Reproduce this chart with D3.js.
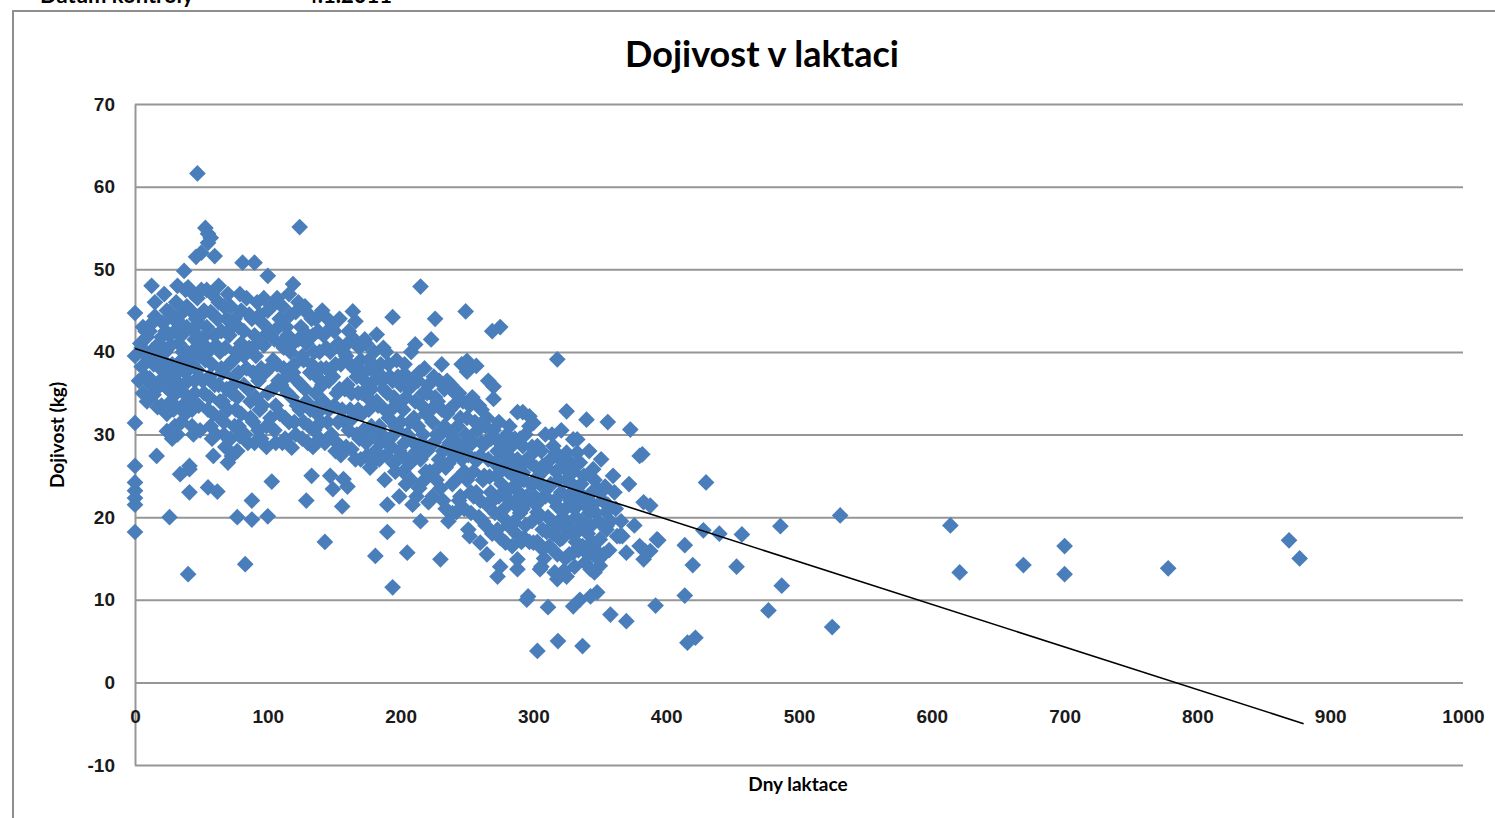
<!DOCTYPE html>
<html>
<head>
<meta charset="utf-8">
<script src="https://cdn.jsdelivr.net/npm/d3@7"></script>
<style>
    body { margin: 0; background: #fff; }
    svg { display: block; font-family: Lato, 'Open Sans', sans-serif; }
    .axis text { font-size: 19px; font-weight: bold; fill: #1a1a1a; }
    .axis line, .axis path { stroke: #969696; stroke-width: 2; }
</style>
</head>
<body>
<div class="scatter-container"></div>
<script>
//Data - dny laktace, dojivost (kg)
const x_ticks = [0, 100, 200, 300, 400, 500, 600, 700, 800, 900, 1000];
const y_ticks = [-10, 0, 10, 20, 30, 40, 50, 60, 70];

// trend (linearni spojnice)
const trend_x = [0, 880];
const trend_y = [40.4, -5.0];

// 0 - 100 dni
const rana = [
    [0,44.7],[0,39.5],[0,31.4],[0,26.2],[0,24.2],[0,23.2],[0,22.3],[0,21.5],[0,18.2],
    [3,36.5],[4,41],[5,38.2],[6,43],[6,35],[7,39.8],[8,37],[9,41.8],[9,34],
    [12.5,48],[15,44.3],[11,42.5],[13,40.2],[14,38.5],[12,36],[16,35.5],[17,33.3],[16.3,27.4],[18,41],[19,38],[15,46],
    [22,47],[24,45],[21,43.5],[26,42],[23,40],[28,38.5],[22,37],[25,35.5],[27,34],[24,32.5],[24,30.4],[30,31],[32,30],[26,20],
    [28,29.5],[29,44],[31,46],[33,41],[35,39],[37,49.8],[34,36],[36,33.5],[34,25.2],[38,47.5],[39,43],[38,37.5],[32,48],
    [40,13.1],[41,26.2],[41,23],[41,25.8],[43,31],[44,30],[42,34],[45,36.5],[43,38.5],[46,40.5],[44,42.5],[42,45],[46,44],
    [47,46.5],[46,51.5],[47,61.6],[50,52],[53,55],[55,54.3],[57,53.8],[55,53.2],[50,47.5],[52,45],[54,43],[51,41],[53,39],
    [56,37],[52,35],[55,33],[57,31],[58,29.5],[55,23.6],[59,27.4],[60,51.6],[58,47],[59,44.5],[60,42],
    [62,23.1],[63,46],[64,40],[65,38],[63,36],[66,34],[64,32],[67,30],[68,28.5],[70,26.6],[69,44],[71,42],[72,45.5],[73,27.4],
    [74,39],[75,37],[73,35],[76,33],[77,28],[77,20],[78,31],[79,47],[78,43],[80,41],
    [81,50.8],[83,14.3],[82,36],[84,38],[85,29],[86,44.5],[87,34],[88,22],[88,19.7],[89,31.5],[90,50.8],[90,42],[91,39.5],
    [92,46],[93,36.5],[94,33],[95,29.5],[96,43.5],[97,40.8],[98,37.5],[99,31],[100,49.2],[100,20.1],[100,45],[100,35],
    [5,40.5],[8,42.5],[10,39],[11,36.8],[13,43.5],[14,34.8],[17,39.5],[19,36.2],[20,41.8],[20,33.5],[21,39],[23,35.8],
    [23,42.5],[25,38],[26,44.8],[27,36.5],[27,40.8],[29,33],[30,42.5],[30,37.2],[31,35],[32,43.8],[33,38.5],[34,44.5],
    [35,31.5],[35,42],[36,40],[37,35],[38,32.5],[39,45.5],[39,40],[40,36.5],[40,47.8],[42,39.5],[43,33],[44,47],[45,41.5],
    [45,35],[47,37.8],[48,43.5],[48,33.5],[49,39.5],[49,30.5],[50,44.5],[51,36.5],[53,42],[54,47.5],[55,40],[56,34.5],
    [57,44.8],[58,38.5],[59,32.5],[60,36],[61,40.8],[61,30],[62,44],[63,48],[64,34],[65,42.5],[66,37.5],[67,31.5],[67,45.5],
    [68,40.5],[69,35.5],[70,33],[70,47],[71,38.5],[72,29.5],[72,42.8],[74,36],[75,44],[75,31],[76,40],[77,34.5],[78,37.5],
    [79,29.8],[80,45],[80,32.5],[82,39.5],[82,42.5],[83,30],[84,46.5],[85,35.5],[86,40.5],[87,32],[88,44],[89,37.5],[90,29],
    [91,34.5],[92,41],[93,30.5],[94,44.5],[95,38],[96,33.5],[97,46.5],[98,42],[99,28.5]
];

// 100 - 200 dni
const stredni = [
    [103,24.3],[102,42.5],[104,39],[105,30.5],[106,33.5],[107,46.5],[108,36.5],[109,44],[110,41],[111,29],[112,38],[113,32],
    [114,43],[115,35],[116,47],[117,40],[118,28.4],[119,48.2],[119,37.5],[120,31.5],[121,44.8],[122,33.5],[123,41.5],
    [124,55.1],[125,36],[126,29.5],[127,39],[128,45.5],[129,22],[129,34],[130,42],[131,31],[132,37.5],[133,25],[133,44],
    [134,28.5],[135,40],[136,35],[137,32.5],[138,42.5],[139,29.5],[140,38],
    [141,45],[142,34],[143,17],[144,40.5],[145,31.5],[147,25],[146,36.5],[148,43],[149,23.4],[150,33.5],[151,38.5],[152,29],
    [153,41],[154,35.5],[156,21.3],[155,27.5],[157,24.6],[158,31.5],[159,39.5],[160,23.7],[160,36],[161,42.5],[162,33],
    [163,28.2],[164,44.9],[165,38],[166,43.7],[167,30],[168,35],[169,40.5],[170,27],[171,32.5],[172,37.5],[173,41.5],
    [174,29],[175,34.5],[176,39],[177,26],[178,31],[179,26.6],[180,36.5],[181,15.3],[182,42.1],[183,33.5],[184,27],
    [185,38.5],[186,30],[187,35.5],[188,24.5],[189,40],[190,18.2],[190,21.5],[191,32],[192,37],[193,28.5],[194,11.5],
    [194,44.2],[195,34.5],[196,25.5],[197,39],[198,30.5],[199,22.5],[200,36],
    [101,38],[102,32],[103,45.5],[104,35.5],[105,41.5],[106,29],[107,38.5],[108,43],[109,32.5],[110,36],[111,45.5],
    [112,40.5],[113,29.5],[114,37],[115,42],[116,31.5],[117,44.5],[118,34.5],[119,41],[120,38.5],[121,30],[122,36.5],
    [123,46],[124,33],[125,43],[126,39.5],[127,31.5],[128,35.5],[129,41],[130,29],[131,44.5],[132,33],[133,38.5],[134,42],
    [135,30.5],[136,44],[137,37],[138,33.5],[139,40],[140,31.5],[141,36],[142,42],[143,29],[144,38],[145,44],[146,33],
    [147,40],[148,30],[149,37],[150,42.5],[151,28],[152,35],[153,31.5],[154,44],[155,38.5],[156,33],[157,40],[158,35.5],
    [159,28.5],[160,41],[161,30.5],[162,38.5],[163,35],[164,32],[165,41.5],[166,27],[167,37],[168,33],[169,29.5],[170,39],
    [171,35],[172,30.5],[173,36.5],[174,41],[175,27.5],[176,33],[177,38],[178,35.5],[179,30],[180,40],[181,28],[182,34],
    [183,37.5],[184,31],[185,29],[186,36.5],[187,40.5],[188,33],[189,27.5],[190,35],[191,38.5],[192,29.5],[193,33],
    [194,36.5],[195,26.5],[196,31],[197,34],[198,37],[199,28]
];

// 200 - 300 dni
const pozdni = [
    [201,27.5],[202,33],[203,38.5],[204,24],[205,15.7],[205,30],[206,35.5],[207,26.5],[208,40],[209,21.5],[210,32],
    [211,40.9],[212,28],[213,36.5],[214,23.5],[215,47.9],[215,19.5],[216,33.5],[217,30],[218,38],[219,25.5],[220,35],
    [221,21.8],[222,28.5],[223,41.5],[224,31.5],[225,37],[226,44],[227,24.5],[228,34],[229,27],[230,14.9],[230,30],
    [231,38.5],[232,22],[233,35.5],[234,26],[235,32.5],[236,19.5],[237,29],[238,36],[239,24],[240,33.5],[241,27.5],
    [242,20.6],[243,31],[244,35],[245,22.5],[246,38.5],[247,28.5],[248,25.5],[249,44.9],[250,38.9],[250,37.6],[250,32],
    [251,18.5],[252,17.7],[252,29.5],[253,23],[254,34.5],[255,22.5],[256,27],[257,38.3],[258,30.5],[259,20],[260,16.9],
    [260,27.4],[261,33],[262,24.5],[263,28.8],[264,19],[265,32],[265,15.5],[266,36.5],[267,24.9],[268,29.5],[269,42.5],
    [270,35.8],[270,34.3],[270,22.1],[271,26.5],[272,29.4],[273,12.8],[273,18.5],[274,31.5],[275,43],[275,14],[276,24],
    [277,27.5],[278,21],[279,16.9],[280,30],[281,25.5],[282,31],[283,19],[284,27],[285,23.7],[285,19.4],[286,29.5],
    [287,22],[288,32.7],[288,13.7],[288,14.9],[289,26],[290,20.5],[291,24.5],[292,32.7],[292,25.4],[292,28.6],[293,17.5],
    [294,30],[295,10],[295,22.5],[296,10.4],[297,31],[297,32.2],[298,26.5],[299,19.5],[300,31.4],[300,16.9],[300,24],
    [200,31.5],[201,37],[202,25.5],[203,29],[204,34.5],[205,37],[206,27],[207,31.5],[208,24.5],[209,36],[210,29],[211,34],
    [212,22.5],[213,31],[214,37.5],[215,27],[216,29],[217,35],[218,24.5],[219,32.5],[220,28],[221,36],[222,25.5],[223,33],
    [224,22.5],[225,29],[226,34.5],[227,30],[228,26],[229,36.5],[230,23.5],[231,33],[232,28],[233,31],[234,21],[235,36.5],
    [236,26.5],[237,33],[238,30],[239,20.5],[240,28],[241,35],[242,24.5],[243,29],[244,22],[245,32],[246,27],[247,34],
    [248,21],[249,30],[250,24.5],[251,27.5],[252,33.5],[253,20.5],[254,29],[255,25.5],[256,31.5],[257,23],[258,27],
    [259,33.5],[260,22],[261,29],[262,19.5],[263,25],[264,31],[265,21.5],[266,27],[267,29.5],[268,23],[269,18],[270,30.5],
    [271,20.5],[272,25],[273,28],[274,22.5],[275,17.5],[276,29],[277,20],[278,26],[279,23],[280,27.5],[281,19],[282,22],
    [283,28.5],[284,16.5],[285,25],[286,21.5],[287,18],[288,27],[289,23],[290,29.5],[291,17],[292,21],[293,24.5],[294,19],
    [295,27],[296,22],[297,17],[298,24],[299,28.5]
];

// 300 - 400 dni
const konec = [
    [301,28],[302,21.5],[303,3.8],[303,20.6],[303,28.6],[304,25],[305,13.7],[306,14],[307,16.1],[307,26.2],[308,22.5],
    [309,30],[310,18.2],[311,9.1],[312,23.7],[313,27],[314,19.5],[315,28.6],[316,13.3],[317,27.8],[318,39.1],[318,21.3],
    [318,12.5],[318.5,5],[319,24.5],[320,17.3],[321,30.5],[322,20],[323,26],[324,15],[325,32.8],[325,12.8],[325,27.8],
    [326,22.5],[327,18.5],[328,26.6],[329,24],[330,9.2],[330,15.7],[330,29.4],[331,21],[332,17],[333,29.4],[333,18.2],
    [333,27.8],[334,23],[335,22.2],[335,26.6],[335,10],[336,19.5],[337,16.5],[337,4.4],[338,25],[339,14.5],[340,31.8],
    [340,21.3],[341,18],[342,28],[343,18.9],[343,13.7],[343,10.4],[344,23],[345,25.8],[346,13.3],[347,20.5],[348,23.4],
    [348,10.9],[349,14.9],[350,17.3],[350,14.1],[351,27],[352,22],[354,23.7],[355,20.6],[355,18.5],[355,18.9],[356,31.5],
    [357,16],[358,8.2],[360,25],[362,21],[363,17.7],[365,17.7],[367,17.7],[370,15.7],[370,7.4],[372,24],[373,30.6],
    [376,19],[380,27.4],[380,16.5],[382,27.6],[383,21.8],[383,14.9],[384,15.9],[388,15.9],[388,21.4],[392,9.3],[393,17.3],
    [394,17.2],
    [301,22.5],[302,26],[303,17],[304,20],[305,24],[306,28],[307,18.5],[308,15],[309,22.5],[310,26],[311,20],[312,16.5],
    [313,24],[314,30],[315,18],[316,22],[317,25.5],[318,15.5],[319,19],[320,27],[321,23],[322,17.5],[323,13.5],[324,21],
    [325,24.5],[326,19],[327,15.5],[328,22],[329,18],[330,25.5],[331,14],[332,20],[333,23.5],[334,16],[336,24],[338,19],
    [339,22],[341,15.5],[342,20.5],[344,17],[345,21.5],[346,24.5],[347,16],[349,19.5],[351,23],[353,15.5],[356,21.5],
    [358,19.5],[361,23],[366,19.5]
];

// nad 400 dni
const dlouhe = [
    [414,16.6],[420,14.2],[414,10.5],[416,4.8],[422,5.4],[430,24.2],[428,18.4],[440,18],[457,17.9],[453,14],
    [486,18.9],[487,11.7],[477,8.7],[531,20.2],[525,6.7],[614,19],[621,13.3],[669,14.2],[700,16.5],[700,13.1],
    [778,13.8],[869,17.2],[877,15]
];

const svg_width = 1495;
const svg_height = 818;
const chart_margin = { top: 104, right: 32, bottom: 53, left: 135 };
const chart_width = svg_width - chart_margin.left - chart_margin.right;
const chart_height = svg_height - chart_margin.top - chart_margin.bottom;

const svg = d3.select('.scatter-container').append('svg')
    .attr('width', svg_width).attr('height', svg_height);

// ramecek grafu + hlavicka listu (orizla uz v predloze)
svg.append('rect')
    .attr('x', 13).attr('y', 11).attr('width', 1500).attr('height', 830)
    .style('fill', 'none').style('stroke', '#8f8f8f').style('stroke-width', 2);
svg.append('text').attr('x', 40).attr('y', 3)
    .style('font-size', '22px').style('font-weight', 'bold').text('Datum kontroly');
svg.append('text').attr('x', 305).attr('y', 3)
    .style('font-size', '22px').style('font-weight', 'bold').text('4.1.2011');

const chart = svg.append('g')
    .attr('transform', `translate(${chart_margin.left},${chart_margin.top})`);

//scale
const xScale = d3.scaleLinear([0, 1000], [0, chart_width]);
const yScale = d3.scaleLinear([-10, 70], [chart_height, 0]);

//axis - mrizka vodorovne
const yAxis = d3.axisLeft(yScale).tickValues(y_ticks).tickFormat(d => String(d))
    .tickSizeInner(-chart_width).tickSizeOuter(0).tickPadding(20);
chart.append('g').attr('class', 'y axis').call(yAxis);

const xAxis = d3.axisBottom(xScale).tickValues(x_ticks).tickFormat(d => String(d))
    .tickSize(0).tickPadding(27);
const xAxisDraw = chart.append('g').attr('class', 'x axis')
    .attr('transform', `translate(0,${yScale(0)})`).call(xAxis);
xAxisDraw.select('.domain').remove();

// body
const all_points = [...rana, ...stredni, ...pozdni, ...konec, ...dlouhe];
const diamond = d3.symbol(d3.symbolSquare, 140);
chart.append('g').attr('class', 'points')
    .selectAll('path').data(all_points).join('path')
    .attr('d', diamond)
    .attr('transform', d => `translate(${xScale(d[0])},${yScale(d[1])}) rotate(45)`)
    .style('fill', '#4a7ebb');

// spojnice trendu
const trend = trend_x.map((v, i) => [v, trend_y[i]]);
chart.append('path').datum(trend)
    .attr('d', d3.line().x(d => xScale(d[0])).y(d => yScale(d[1])))
    .style('fill', 'none').style('stroke', '#000').style('stroke-width', 1.6);

//titles
svg.append('text').attr('x', 762).attr('y', 67).attr('text-anchor', 'middle')
    .style('font-size', '36px').style('font-weight', 'bold').text('Dojivost v laktaci');
svg.append('text').attr('x', 798).attr('y', 791).attr('text-anchor', 'middle')
    .style('font-size', '19px').style('font-weight', 'bold').text('Dny laktace');
svg.append('text').attr('transform', 'translate(64,435) rotate(-90)').attr('text-anchor', 'middle')
    .style('font-size', '19px').style('font-weight', 'bold').text('Dojivost (kg)');
</script>
</body>
</html>
